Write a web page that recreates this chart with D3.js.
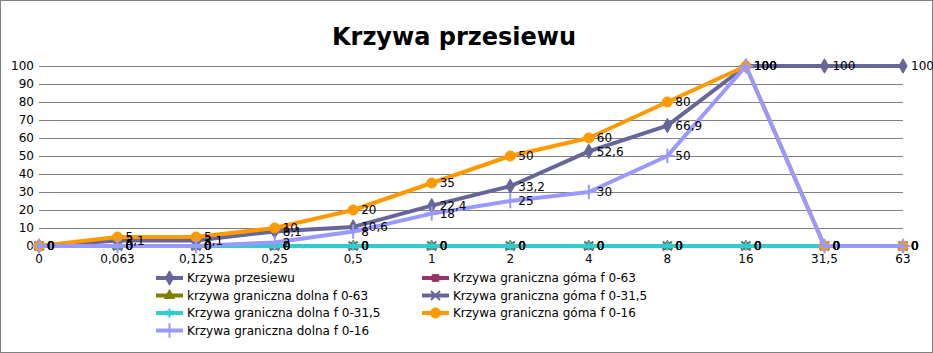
<!DOCTYPE html>
<html>
<head>
<meta charset="utf-8">
<script src="https://cdn.jsdelivr.net/npm/d3@7"></script>
<style>
  body { margin: 0; background: #fff; }
  svg { font-family: "DejaVu Sans", sans-serif; }
</style>
</head>
<body>
<div id="chart"></div>
<script>
// categories (sieve size, mm)
const categories = ["0", "0,063", "0,125", "0,25", "0,5", "1", "2", "4", "8", "16", "31,5", "63"];
const yTicks = [0, 10, 20, 30, 40, 50, 60, 70, 80, 90, 100];

const przesiew     = [0, 3.1, 3.1, 8.1, 10.6, 22.4, 33.2, 52.6, 66.9, 100, 100, 100];
const gornaF063    = [0, 0, 0, 0, 0, 0, 0, 0, 0, 0, 0, 0];
const dolnaF063    = [0, 0, 0, 0, 0, 0, 0, 0, 0, 0, 0, 0];
const gornaF0315   = [0, 0, 0, 0, 0, 0, 0, 0, 0, 0, 0, 0];
const dolnaF0315   = [0, 0, 0, 0, 0, 0, 0, 0, 0, 0, 0, 0];
const gornaF016    = [0, 5, 5, 10, 20, 35, 50, 60, 80, 100, 0, 0];
const dolnaF016    = [0, 0, 0, 2, 8, 18, 25, 30, 50, 100, 0, 0];

const seriesNames = [
  "Krzywa przesiewu",
  "Krzywa graniczna góma f 0-63",
  "krzywa graniczna dolna f 0-63",
  "Krzywa graniczna góma f 0-31,5",
  "Krzywa graniczna dolna f 0-31,5",
  "Krzywa graniczna góma f 0-16",
  "Krzywa graniczna dolna f 0-16"
];
const seriesValues = [przesiew, gornaF063, dolnaF063, gornaF0315, dolnaF0315, gornaF016, dolnaF016];
const seriesColors = ["#666699", "#993366", "#808000", "#666699", "#33CCCC", "#FF9900", "#9999FF"];

(function chart(){
  let width = 933, height = 353;

  const series = seriesNames.map((name, i) => ({
    name: name,
    color: seriesColors[i],
    values: seriesValues[i]
  }));

  const symbols = [d3.symbolDiamond, d3.symbolSquare, d3.symbolTriangle, d3.symbolX,
                   d3.symbolAsterisk, d3.symbolCircle, d3.symbolPlus];
  const filled = [true, true, true, false, false, true, false];
  const sizes = [60, 45, 45, 55, 55, 80, 70];

  const x = d3.scalePoint().domain(categories).range([39, 903]);
  const y = d3.scaleLinear().domain([0, 100]).range([246, 66]);

  const svg = d3.select("#chart")
    .append("svg")
    .attr("width", width)
    .attr("height", height);

  svg.append("rect")
    .attr("x", 0.5).attr("y", 0.5)
    .attr("width", width - 1).attr("height", height - 1)
    .attr("fill", "white")
    .attr("stroke", "#808080");

  svg.append("text")
    .attr("x", 454)
    .attr("y", 45)
    .attr("text-anchor", "middle")
    .attr("font-size", 24)
    .attr("font-weight", "bold")
    .text("Krzywa przesiewu");

  // gridlines
  svg.append("g")
    .selectAll("line")
    .data(yTicks.slice(1))
    .join("line")
    .attr("x1", 39).attr("x2", 903)
    .attr("y1", d => y(d) + 0.5).attr("y2", d => y(d) + 0.5)
    .attr("stroke", "#808080")
    .attr("stroke-width", 1);

  // y axis labels
  svg.append("g")
    .attr("font-size", 12)
    .attr("text-anchor", "end")
    .selectAll("text")
    .data(yTicks)
    .join("text")
    .attr("x", 34)
    .attr("y", d => y(d))
    .attr("dy", "0.36em")
    .text(d => d);

  // x axis labels
  svg.append("g")
    .attr("font-size", 12)
    .attr("text-anchor", "middle")
    .selectAll("text")
    .data(categories)
    .join("text")
    .attr("x", d => x(d))
    .attr("y", 263)
    .text(d => d);

  const line = d3.line()
    .x((d, i) => x(categories[i]))
    .y(d => y(d));

  const symbolPath = (i) => d3.symbol().type(symbols[i]).size(sizes[i])();

  series.forEach((s, si) => {
    const g = svg.append("g");
    g.append("path")
      .attr("d", line(s.values))
      .attr("fill", "none")
      .attr("stroke", s.color)
      .attr("stroke-width", 4)
      .attr("stroke-linejoin", "round");
    g.selectAll("path.mark")
      .data(s.values)
      .join("path")
      .attr("class", "mark")
      .attr("transform", (d, i) => `translate(${x(categories[i])},${y(d)})`)
      .attr("d", symbolPath(si))
      .attr("fill", filled[si] ? s.color : "none")
      .attr("stroke", s.color)
      .attr("stroke-width", filled[si] ? 1 : 2);
  });

  // data labels
  series.forEach((s) => {
    svg.append("g")
      .attr("font-size", 12)
      .selectAll("text")
      .data(s.values)
      .join("text")
      .attr("x", (d, i) => x(categories[i]) + 8)
      .attr("y", d => y(d))
      .attr("dy", "0.36em")
      .text(d => String(d).replace(".", ","));
  });

  // legend
  const legend = svg.append("g")
    .attr("font-size", 12)
    .selectAll("g")
    .data(series)
    .join("g")
    .attr("transform", (d, i) => `translate(${i % 2 === 0 ? 156 : 422},${278 + Math.floor(i / 2) * 17.5})`);

  legend.append("line")
    .attr("x1", 0).attr("x2", 27)
    .attr("stroke", d => d.color)
    .attr("stroke-width", 4);

  legend.append("path")
    .attr("transform", "translate(13.5,0)")
    .attr("d", (d, i) => symbolPath(i))
    .attr("fill", (d, i) => filled[i] ? d.color : "none")
    .attr("stroke", d => d.color)
    .attr("stroke-width", (d, i) => filled[i] ? 1 : 2);

  legend.append("text")
    .attr("x", 31)
    .attr("dy", "0.36em")
    .text(d => d.name);
})();
</script>
</body>
</html>
